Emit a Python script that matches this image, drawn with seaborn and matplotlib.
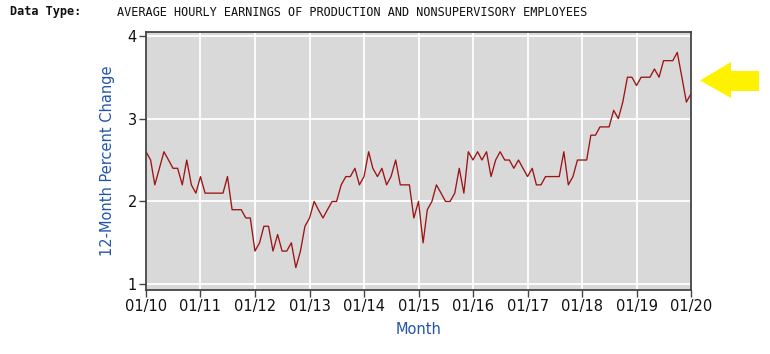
import pandas as pd
import matplotlib
matplotlib.use("Agg")
import matplotlib.pyplot as plt
import matplotlib.dates as mdates
from matplotlib.patches import Polygon
import seaborn as sns

# 12-month percent change, monthly, Jan 2010 .. Jan 2020
start_month = "2010-01-01"
pct_change = [
    2.6, 2.5, 2.2, 2.4, 2.6, 2.5, 2.4, 2.4, 2.2, 2.5, 2.2, 2.1,  # 2010
    2.3, 2.1, 2.1, 2.1, 2.1, 2.1, 2.3, 1.9, 1.9, 1.9, 1.8, 1.8,  # 2011
    1.4, 1.5, 1.7, 1.7, 1.4, 1.6, 1.4, 1.4, 1.5, 1.2, 1.4, 1.7,  # 2012
    1.8, 2.0, 1.9, 1.8, 1.9, 2.0, 2.0, 2.2, 2.3, 2.3, 2.4, 2.2,  # 2013
    2.3, 2.6, 2.4, 2.3, 2.4, 2.2, 2.3, 2.5, 2.2, 2.2, 2.2, 1.8,  # 2014
    2.0, 1.5, 1.9, 2.0, 2.2, 2.1, 2.0, 2.0, 2.1, 2.4, 2.1, 2.6,  # 2015
    2.5, 2.6, 2.5, 2.6, 2.3, 2.5, 2.6, 2.5, 2.5, 2.4, 2.5, 2.4,  # 2016
    2.3, 2.4, 2.2, 2.2, 2.3, 2.3, 2.3, 2.3, 2.6, 2.2, 2.3, 2.5,  # 2017
    2.5, 2.5, 2.8, 2.8, 2.9, 2.9, 2.9, 3.1, 3.0, 3.2, 3.5, 3.5,  # 2018
    3.4, 3.5, 3.5, 3.5, 3.6, 3.5, 3.7, 3.7, 3.7, 3.8, 3.5, 3.2,  # 2019
    3.3,                                                         # 2020
]
y_ticks = [1, 2, 3, 4]
x_tick_years = list(range(2010, 2021))

header_label = "Data Type:"
header_value = "AVERAGE HOURLY EARNINGS OF PRODUCTION AND NONSUPERVISORY EMPLOYEES"
x_title = "Month"
y_title = "12-Month Percent Change"

df = pd.DataFrame({
    "month": pd.date_range(start_month, periods=len(pct_change), freq="MS"),
    "value": pct_change,
})

sns.set_style("white")
plt.rcParams["font.family"] = ["DejaVu Sans"]

W, H = 770, 354
fig = plt.figure(figsize=(W / 100, H / 100), dpi=100)
ax = fig.add_axes([146 / W, 1 - 290 / H, (691 - 146) / W, (290 - 31.7) / H])
ax.set_facecolor("#d9d9d9")

sns.lineplot(data=df, x="month", y="value", ax=ax, color="#9c1414", linewidth=0.95)

ax.set_xlim(df["month"].iloc[0], df["month"].iloc[-1])
ax.set_ylim(0.93, 4.05)
ax.set_yticks(y_ticks)
ax.set_yticklabels([str(t) for t in y_ticks])
ax.set_xticks([pd.Timestamp(f"{y}-01-01") for y in x_tick_years])
ax.xaxis.set_major_formatter(mdates.DateFormatter("%m/%y"))

ax.grid(True, color="white", linewidth=1.3)
ax.set_axisbelow(True)
for s in ax.spines.values():
    s.set_color("#444444")
    s.set_linewidth(1.3)
ax.tick_params(axis="both", direction="out", length=5, width=1, color="#444444",
               labelsize=10.5, labelcolor="#111111", pad=1.5, left=True, bottom=True)

ax.set_xlabel(x_title, color="#2255aa", fontsize=10.5, labelpad=6)
ax.set_ylabel(y_title, color="#2255aa", fontsize=10.5, labelpad=9)

fig.text(10 / W, 1 - 12 / H, header_label, family="DejaVu Sans Mono", weight="bold",
         fontsize=8.6, va="center", ha="left", color="#111111")
fig.text(117 / W, 1 - 12 / H, header_value, family="DejaVu Sans Mono",
         fontsize=8.6, va="center", ha="left", color="#111111")

# yellow arrow pointing at the latest value
arrow_px = [(700, 80.5), (731, 62), (731, 71), (759, 71), (759, 91), (731, 91), (731, 98)]
arrow = Polygon([(x / W, 1 - y / H) for x, y in arrow_px], closed=True,
                transform=fig.transFigure, facecolor="#fff200", edgecolor="none")
fig.patches.append(arrow)

fig.savefig("out.png", dpi=100)
